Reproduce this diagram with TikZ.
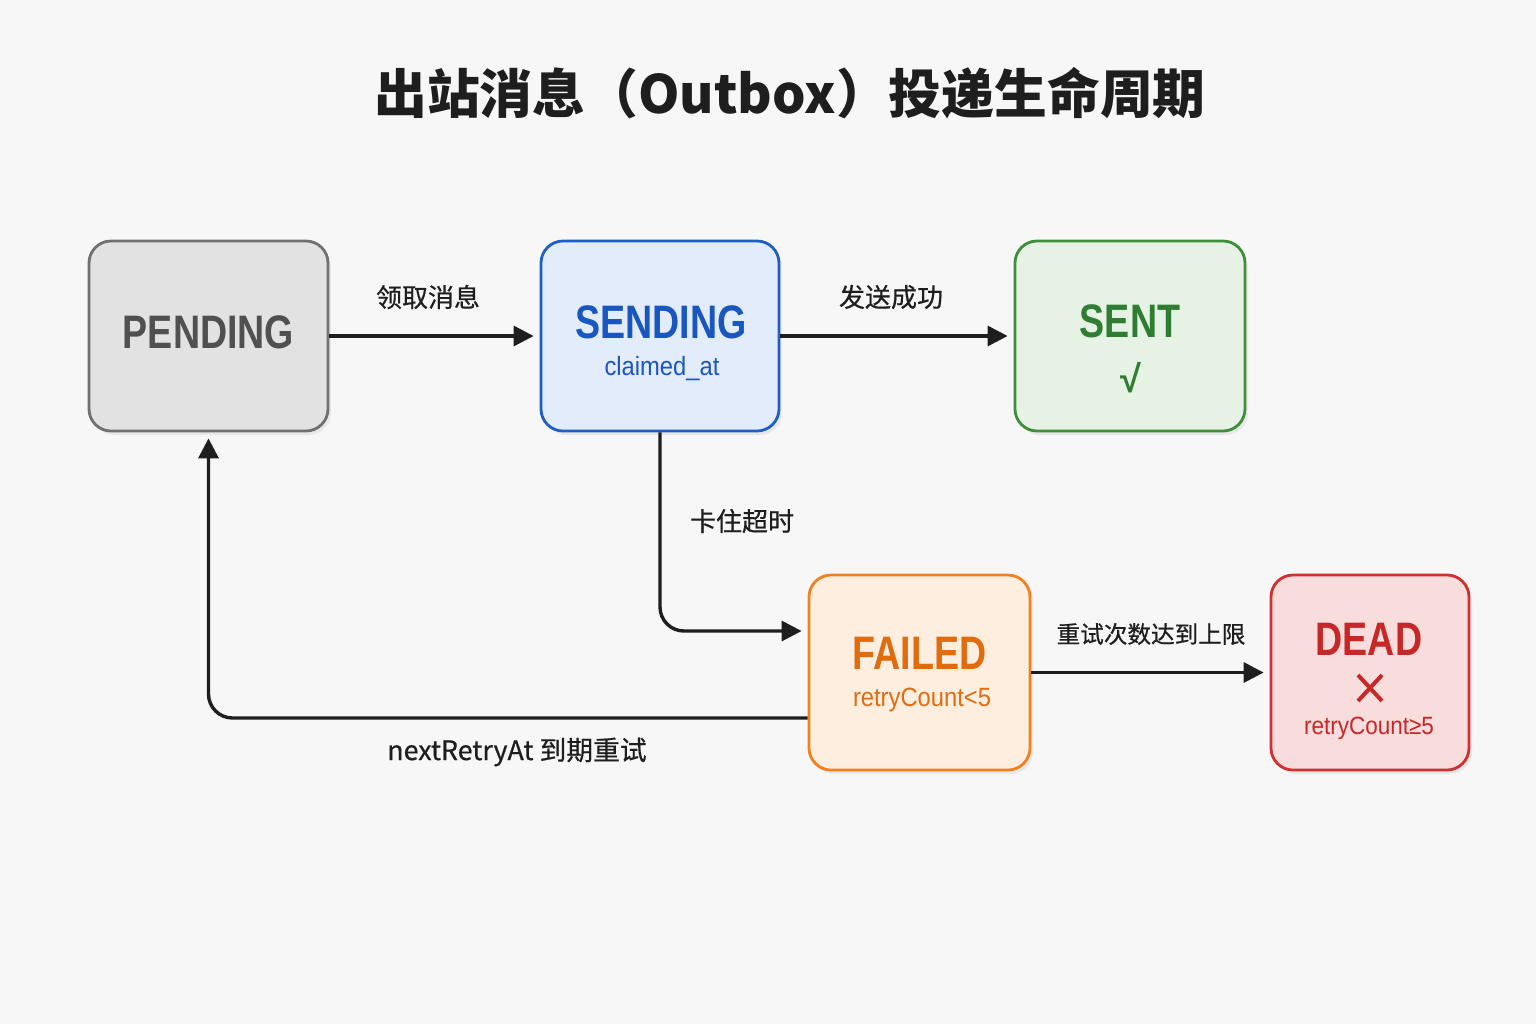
\documentclass[tikz,border=0pt]{standalone}
\usepackage{fontspec}
\setmainfont{Noto Sans CJK SC}
\newfontfamily\labelf{Noto Sans CJK SC}[FakeBold=0.6]
\newfontfamily\titlef{Liberation Sans}[FakeStretch=0.8]
\newfontfamily\subf{Liberation Sans}[FakeStretch=0.9]
\newfontfamily\checkf{Liberation Sans}
\usetikzlibrary{arrows.meta,shadows,calc}
\definecolor{bg}{HTML}{F7F7F7}
\definecolor{ink}{HTML}{1E1E1E}
\definecolor{pfill}{HTML}{E2E2E2}\definecolor{pdraw}{HTML}{707070}\definecolor{ptext}{HTML}{505050}
\definecolor{sfill}{HTML}{E3ECFA}\definecolor{sdraw}{HTML}{1F5FC4}\definecolor{stext}{HTML}{1A56C0}
\definecolor{gfill}{HTML}{E6F3E4}\definecolor{gdraw}{HTML}{3F8F3A}\definecolor{gtext}{HTML}{2E7D32}
\definecolor{ffill}{HTML}{FDEEDF}\definecolor{fdraw}{HTML}{F08020}\definecolor{ftext}{HTML}{E06C10}
\definecolor{dfill}{HTML}{F9DCDC}\definecolor{ddraw}{HTML}{D03030}\definecolor{dtext}{HTML}{C62828}
\tikzset{
  statebox/.style={draw, line width=1.4pt, rounded corners=11pt, inner sep=0pt,
    drop shadow={opacity=0.12, shadow xshift=1.5pt, shadow yshift=-2pt}},
  arr/.style={draw=ink, line width=1.7pt, -{Triangle[length=10pt,width=10pt]}, shorten >=3pt},
  elabel/.style={text=ink, font=\labelf\fontsize{13pt}{15pt}\selectfont, inner sep=0pt},
  stitle/.style={font=\titlef\bfseries\fontsize{23.5pt}{28pt}\selectfont, inner sep=0pt},
  ssub/.style={font=\subf\fontsize{13.2pt}{15pt}\selectfont, inner sep=0pt},
}
\begin{document}
\begin{tikzpicture}[x=0.5pt,y=-0.5pt]
\fill[bg] (0,0) rectangle (1536,1024);
\useasboundingbox (0,0) rectangle (1536,1024);

\node[font=\bfseries\fontsize{26.4pt}{32pt}\selectfont, text=ink, inner sep=0pt] (title) at (790,93) {出站消息（Outbox）投递生命周期};

% boxes
\node[statebox, fill=pfill, draw=pdraw, minimum width=119.5pt, minimum height=95pt] (pending) at (208.5,336) {};
\node[statebox, fill=sfill, draw=sdraw, minimum width=119pt, minimum height=95pt] (sending) at (660,336) {};
\node[statebox, fill=gfill, draw=gdraw, minimum width=115pt, minimum height=95pt] (sent) at (1130,336) {};
\node[statebox, fill=ffill, draw=fdraw, minimum width=110.5pt, minimum height=97.5pt] (failed) at (919.5,672.5) {};
\node[statebox, fill=dfill, draw=ddraw, minimum width=99pt, minimum height=97.5pt] (dead) at (1370,672.5) {};

% box texts
\node[stitle, text=ptext] (pendingT) at (208.5,332) {PENDING};
\node[stitle, text=stext] (sendingT) at (661,322) {SENDING};
\node[ssub, text=stext] (sendingS) at (662,369) {claimed\_at};
\node[stitle, text=gtext] (sentT) at (1130,321) {SENT};
\node[font=\checkf\bfseries\fontsize{19pt}{24pt}\selectfont, text=gtext, inner sep=0pt] (sentS) at (1131,378) {√};
\node[stitle, text=ftext] (failedT) at (919.5,653) {FAILED};
\node[ssub, text=ftext] (failedS) at (922,700) {retryCount<5};
\node[stitle, text=dtext] (deadT) at (1369,639) {DEAD};
\coordinate (xc) at (1370,688);
\draw[dtext, line width=2pt] ($(xc)+(-12,-13)$) -- ($(xc)+(12,13)$);
\draw[dtext, line width=2pt] ($(xc)+(-12,13)$) -- ($(xc)+(12,-13)$);
\node[ssub, text=dtext, font=\subf\fontsize{12.5pt}{14pt}\selectfont] (deadS) at (1369,728) {retryCount≥5};

% connectors
\draw[arr] (pending.east) -- (sending.west);
\draw[arr] (sending.east) -- (sent.west);
\draw[arr, rounded corners=12pt] (sending.south) |- ([yshift=20.75pt]failed.west);
\draw[arr] (failed.east) -- (dead.west);
\draw[arr, rounded corners=12pt] ([yshift=-22.75pt]failed.west) -| (pending.south);

% labels
\node[elabel] (l1) at (428,297) {领取消息};
\node[elabel] (l2) at (891,297) {发送成功};
\node[elabel] (l3) at (742,521) {卡住超时};
\node[elabel, font=\labelf\fontsize{11.8pt}{14pt}\selectfont] (l4) at (1151,634) {重试次数达到上限};
\node[elabel, font=\labelf\fontsize{13.4pt}{15pt}\selectfont] (l5) at (517,752) {nextRetryAt 到期重试};
\end{tikzpicture}
\end{document}
